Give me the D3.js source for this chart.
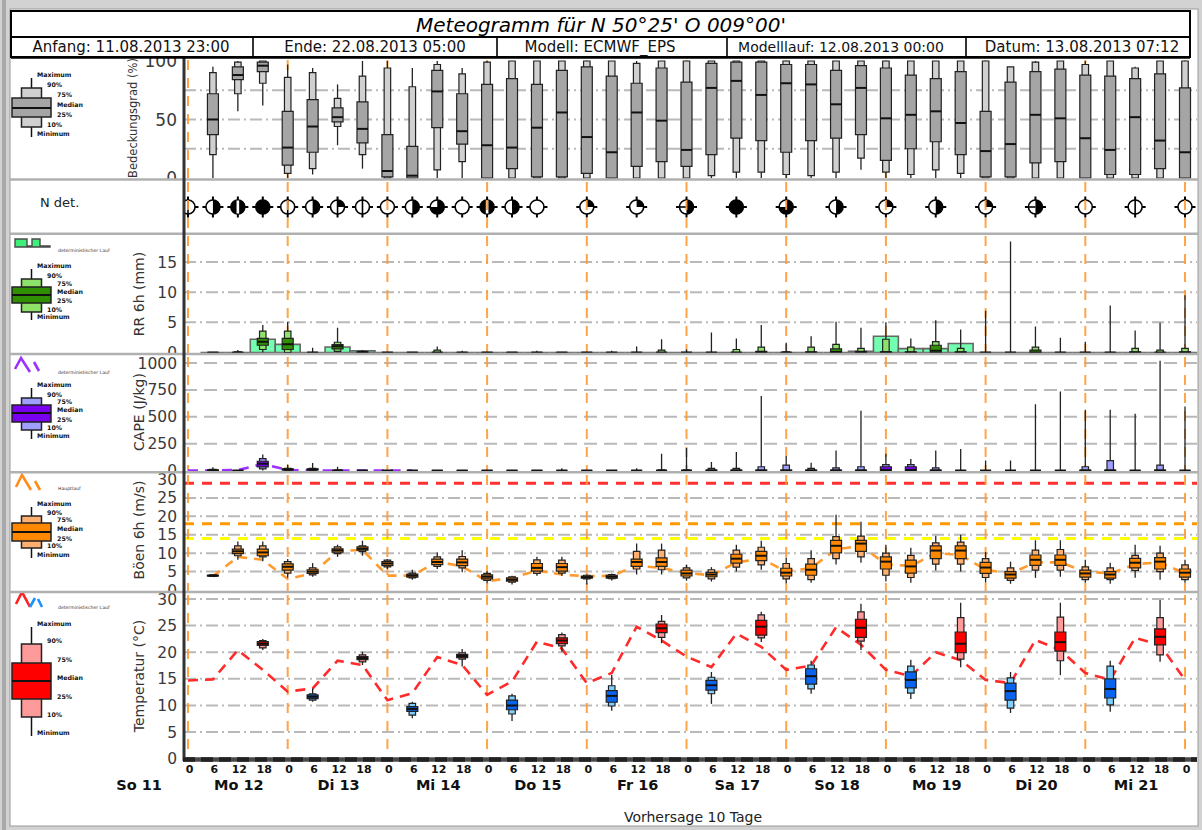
<!DOCTYPE html>
<html>
<head>
<meta charset="utf-8">
<script src="https://cdn.jsdelivr.net/npm/d3@7"></script>
<style>
  html, body { margin: 0; padding: 0; background: #fff; }
  svg { display: block; font-family: "DejaVu Sans", sans-serif; }
</style>
</head>
<body>
<svg id="chart" width="1202" height="830"></svg>
<script>
// ---------------- data ----------------
// time axis: hours after 12.08.2013 00:00
const dayLabels = ["So 11", "Mo 12", "Di 13", "Mi 14", "Do 15", "Fr 16", "Sa 17", "So 18", "Mo 19", "Di 20", "Mi 21"];
const dayNoonHours = [-12, 12, 36, 60, 84, 108, 132, 156, 180, 204, 228];
const dayStartHours = [0, 24, 48, 72, 96, 120, 144, 168, 192, 216, 240];
const hourTicks = d3.range(0, 241, 6);
const ensHours = d3.range(6, 241, 6);      // ensemble output steps
const detHours = d3.range(0, 241, 6);      // deterministic run steps

const headerCells = ["Anfang: 11.08.2013 23:00", "Ende: 22.08.2013 05:00", "Modell: ECMWF_EPS",
                     "Modelllauf: 12.08.2013 00:00", "Datum: 13.08.2013 07:12"];
const titleText = "Meteogramm für N 50°25' O 009°00'";
const legendNames = ["Maximum", "90%", "75%", "Median", "25%", "10%", "Minimum"];

// ensemble statistics per step: [min, p10, p25, median, p75, p90, max]
const cloudStats = [
  [0,20,37,50,72,90,95],[57,72,84,88,95,99,100],[62,81,91,96,99,100,100],[0,4,11,26,57,86,97],
  [3,8,22,44,67,90,94],[28,44,48,52,60,68,80],[8,20,30,42,65,87,100],[0,0,1,6,37,94,100],
  [0,0,0,2,27,78,94],[0,7,43,74,92,97,100],[0,14,29,40,72,89,94],[0,0,0,28,80,99,100],
  [0,0,8,26,85,100,100],[0,0,1,43,80,100,100],[0,0,1,56,92,100,100],[0,0,4,35,95,100,100],
  [0,0,0,22,87,100,100],[0,0,10,56,81,98,100],[0,0,14,49,94,100,100],[0,0,10,24,82,100,100],
  [0,2,20,77,98,100,100],[0,5,34,83,99,100,100],[0,5,32,71,99,100,100],[0,3,22,81,97,100,100],
  [0,2,32,80,97,100,100],[0,5,34,63,92,100,100],[7,17,37,77,96,100,100],[0,5,15,51,94,100,100],
  [0,3,25,54,88,100,100],[0,7,31,57,85,100,100],[0,4,20,47,91,100,100],[0,0,1,23,57,100,100],
  [0,0,1,29,82,95,95],[0,0,13,54,91,99,100],[0,0,14,51,93,100,100],[0,0,0,34,88,97,100],
  [0,0,3,24,87,100,100],[0,0,3,52,85,94,95],[0,0,8,32,89,100,100],[0,0,0,22,77,100,100]
];

// deterministic total cloud cover in octas
const ndetHours = [0,6,12,18,24,30,36,42,48,54,60,66,72,78,84,96,108,120,132,144,156,168,180,192,204,216,228,240];
const ndetOctas = [1,4,7,8,1,4,3,1,0,4,6,0,7,4,0,2,2,5,8,6,4,2,4,2,5,0,1,0];

const rrStats = [
  [0,0,0,0,0,0,0],[0,0,0,0,0,0.1,0.4],[0,0.5,1.2,1.8,2.35,3.55,4.55],[0,0,0.5,1.35,2.35,3.55,5.1],
  [0,0,0,0,0,0,0.8],[0,0.2,0.6,1.05,1.3,1.7,4.1],[0,0,0,0.05,0.1,0.2,0.4],[0,0,0,0,0,0,0],
  [0,0,0,0,0,0,0],[0,0,0,0,0,0.4,1.0],[0,0,0,0,0,0,0.3],[0,0,0,0,0,0,0],
  [0,0,0,0,0,0,0.1],[0,0,0,0,0,0,0.3],[0,0,0,0,0,0,0],[0,0,0,0,0,0,0],
  [0,0,0,0,0,0,0.3],[0,0,0,0,0,0,1.0],[0,0,0,0,0,0.4,2.2],[0,0,0,0,0,0,0.5],
  [0,0,0,0,0,0,3.3],[0,0,0,0,0,0.5,2.3],[0,0,0,0,0.2,0.9,4.55],[0,0,0,0,0,0.1,1.6],
  [0,0,0,0,0.1,0.9,2.7],[0,0,0,0.1,0.6,1.35,5.1],[0,0,0,0,0.2,0.7,4.1],[0,0,0,0.05,0.1,2.2,5.0],
  [0,0,0,0,0.1,0.9,2.3],[0,0,0,0.3,1.2,1.8,5.35],[0,0,0,0,0.1,0.7,3.8],[0,0,0,0,0,0,6.9],
  [0,0,0,0,0,0,18.4],[0,0,0,0,0.4,0.9,4.3],[0,0,0,0,0,0,2.45],[0,0,0,0,0,0,1.8],
  [0,0,0,0,0,0,7.8],[0,0,0,0,0.1,0.7,3.65],[0,0,0,0,0,0.4,4.95],[0,0,0,0,0.1,0.7,9.5]
];
// deterministic 6-hourly precipitation (mm)
const rrDet = [0,0,2.2,1.35,0,0.9,0.3,0, 0,0,0,0,0,0,0,0,0,0,0,0,0,0,0,0,0,0,
               0.2,2.7,0.65,0.65,1.5, 0,0,0,0,0,0,0,0,0];

const capeStats = [
  [0,0,0,0,5,10,30],[0,0,0,0,0,0,5],[0,16,34,62,86,110,148],[0,0,5,10,15,20,55],
  [0,0,5,10,15,20,70],[0,0,0,0,0,5,34],[0,0,0,0,0,0,0],[0,0,0,0,0,0,0],
  [0,0,0,0,0,0,0],[0,0,0,0,0,0,0],[0,0,0,0,0,0,0],[0,0,0,0,0,0,0],
  [0,0,0,0,0,0,0],[0,0,0,0,0,0,0],[0,0,0,0,0,0,20],[0,0,0,0,0,0,0],
  [0,0,0,0,0,0,5],[0,0,0,0,0,0,20],[0,0,0,0,0,5,155],[0,0,0,0,0,5,210],
  [0,0,0,0,3,20,80],[0,0,0,0,3,20,173],[0,0,0,0,3,35,694],[0,0,0,0,3,50,133],
  [0,0,0,0,3,20,71],[0,0,0,0,3,25,185],[0,0,0,0,3,35,555],[0,0,0,5,35,55,155],
  [0,0,0,5,35,55,108],[0,0,0,0,3,25,185],[0,0,0,0,0,0,200],[0,0,0,0,0,0,92],
  [0,0,0,0,0,0,92],[0,0,0,0,0,0,617],[0,0,0,0,0,0,734],[0,0,0,0,3,35,565],
  [0,0,0,0,3,92,565],[0,0,0,0,0,0,528],[0,0,0,0,3,50,1020],[0,0,0,0,0,0,596]
];
const capeDetHours = [0,6,12,18,24,30,36,42,48,54];
const capeDet = [0,0,5,60,5,0,0,0,0,0];

const gustStats = [
  [3.5,3.7,3.8,3.9,4.0,4.1,4.3],[8.2,9.3,9.9,10.5,11.1,12.0,13.2],[7.8,9.0,9.3,10.2,11.1,12.0,13.2],
  [3.3,4.6,5.4,6.3,7.1,7.7,8.4],[3.6,4.1,4.5,5.0,5.5,6.0,7.3],[9.0,9.9,10.3,10.8,11.2,11.7,12.3],
  [9.3,10.4,10.8,11.2,11.7,12.0,13.4],[5.7,6.3,6.6,7.2,7.7,8.1,8.4],[2.8,3.3,3.5,3.9,4.3,4.6,5.5],
  [5.7,6.4,6.9,7.6,8.4,9.0,10.2],[4.8,6.0,6.6,7.5,8.4,9.1,10.8],[1.8,2.6,3.0,3.6,4.1,4.5,5.1],
  [1.5,2.1,2.4,2.8,3.3,3.6,3.9],[3.9,4.5,5.1,6.0,7.2,8.2,9.0],[3.9,4.6,5.1,6.2,7.2,8.1,9.0],
  [1.5,3.0,3.2,3.5,3.8,4.0,4.2],[2.6,3.1,3.2,3.6,4.0,4.2,4.5],[4.2,5.7,6.4,7.6,8.4,10.5,12.6],
  [4.2,5.5,6.4,7.6,8.7,10.8,12.6],[2.5,3.3,3.8,4.5,5.4,6.0,6.9],[2.3,3.0,3.6,4.2,4.8,5.5,6.2],
  [5.0,6.2,7.3,8.5,9.7,10.8,12.3],[5.5,6.8,8.0,9.3,10.5,11.6,13.4],[1.8,3.0,3.8,4.7,5.9,7.2,8.8],
  [2.0,2.8,4.0,5.5,7.0,8.5,10.8],[6.9,8.5,10.1,12.0,13.5,14.5,20.4],[7.4,9.0,10.5,12.6,13.5,14.6,18.5],
  [2.3,4.0,5.7,7.7,9.0,10.0,12.3],[2.0,3.4,4.6,6.4,8.1,9.4,11.5],[5.3,7.0,8.5,10.7,12.0,12.8,14.7],
  [5.0,7.0,8.5,10.7,12.0,13.0,15.0],[2.0,3.4,4.5,6.1,7.5,8.5,10.3],[1.7,2.6,3.2,4.2,5.0,6.0,7.7],
  [3.3,5.4,6.7,8.2,9.5,10.8,13.5],[3.6,5.4,6.7,8.2,9.5,11.0,13.5],[2.0,2.8,3.5,4.5,5.4,6.3,8.2],
  [1.7,2.8,3.2,4.2,5.0,6.0,7.4],[3.3,5.3,6.0,7.4,8.6,9.4,12.3],[2.8,5.0,5.7,7.7,8.8,10.0,12.0],
  [2.0,2.8,3.5,4.7,5.7,6.8,8.2]
];
const gustDet = [3.7,9.0,8.2,3.0,4.5,10.5,10.9,3.9,3.9,7.7,6.4,2.4,3.3,5.3,4.2,3.7,3.9,6.6,6.0,4.6,
                 4.0,7.5,8.5,5.0,6.0,11.0,12.0,7.0,6.5,10.0,9.5,5.5,4.5,7.5,7.5,5.0,4.5,7.0,7.5,4.5];
const gustWarnLevels = [14, 18, 29];
const gustWarnColors = ["#ffff00", "#ff9a00", "#ff3030"];

const tminHours = [30, 54, 78, 102, 126, 150, 174, 198, 222];
const tminStats = [
  [10.7,11.0,11.3,11.65,12.0,12.2,13.2],[7.6,8.2,8.9,9.35,9.8,10.4,10.7],[7.1,8.4,9.2,10.0,11.0,11.8,12.2],
  [9.0,9.9,10.6,11.8,12.8,13.7,15.7],[10.3,12.2,12.9,13.8,14.7,15.3,16.3],[12.2,13.1,14.0,15.5,16.9,17.6,18.4],
  [11.2,12.3,13.3,14.8,16.3,17.4,18.6],[8.6,9.5,11.0,12.7,14.2,15.2,16.3],[8.8,10.1,11.4,13.1,15.0,17.4,18.4]
];
const tmaxHours = [18, 42, 66, 90, 114, 138, 162, 186, 210, 234];
const tmaxStats = [
  [20.4,20.8,21.3,21.6,22.0,22.2,22.5],[17.6,18.2,18.6,18.9,19.2,19.5,20.1],[17.3,18.7,19.0,19.3,19.6,19.9,20.6],
  [20.1,21.2,21.6,22.2,22.7,23.3,23.7],[21.7,22.8,23.7,24.5,25.3,25.8,27.0],[21.9,22.7,23.2,24.8,26.0,27.0,27.6],
  [20.4,22.1,22.8,24.6,26.2,27.6,29.1],[17.2,18.7,19.9,21.6,23.8,26.5,29.3],[15.7,18.4,20.2,21.9,23.8,26.6,29.3],
  [18.2,19.5,21.4,22.9,24.4,26.5,29.8]
];
const tempDet = [14.7,14.9,20.4,16.7,12.6,13.2,18.4,17.6,11.0,12.3,19.1,17.6,12.0,14.5,22.0,20.7,14.2,16.1,
                 24.8,22.2,19.2,17.2,23.5,21.0,16.7,17.5,24.7,21.4,16.7,15.5,20.0,18.5,14.8,14.2,22.3,20.4,
                 16.1,14.8,22.7,21.4,14.8];

// axis ticks and grid levels
const cloudTicks = [0, 50, 100], cloudGrid = [25, 50, 75];
const rrTicks = [0, 5, 10, 15], rrGrid = [5, 10, 15];
const capeTicks = [0, 250, 500, 750, 1000], capeGrid = [250, 500, 750, 1000];
const gustTicks = [0, 5, 10, 15, 20, 25, 30], gustGrid = [5, 10, 15, 20, 25];
const tempTicks = [0, 5, 10, 15, 20, 25, 30], tempGrid = [5, 10, 15, 20, 25, 30];

// ---------------- layout ----------------
const svg = d3.select("#chart");
const PL = 184, PR = 1197;
const x = d3.scaleLinear().domain([0, 240]).range([188, 1185]);

const panels = {
  cloud: { top: 58, bottom: 179 },
  ndet:  { top: 180, bottom: 233 },
  rr:    { top: 234, bottom: 353.5 },
  cape:  { top: 355, bottom: 471.5 },
  gust:  { top: 473, bottom: 591 },
  temp:  { top: 593, bottom: 775 }
};
const yCloud = d3.scaleLinear().domain([0, 100]).range([178, 61]);
const yRR    = d3.scaleLinear().domain([0, 15]).range([352.5, 262]);
const yCape  = d3.scaleLinear().domain([0, 1000]).range([470.5, 363]);
const yGust  = d3.scaleLinear().domain([0, 30]).range([590, 479.5]);
const yTemp  = d3.scaleLinear().domain([0, 30]).range([758.7, 599]);

const GRID = "#b9b9b9";
const DASHDOT = "12,4,2,4";

// frame
svg.append("rect").attr("width", 1202).attr("height", 830).attr("fill", "#d2d2d2");
svg.append("rect").attr("x", 2).attr("y", 0).attr("width", 4).attr("height", 830).attr("fill", "#a9a9a9");
svg.append("rect").attr("x", 10).attr("y", 9).attr("width", 1188).attr("height", 817)
  .attr("fill", "#fff").attr("stroke", "#9a9a9a").attr("stroke-width", 1);

const defs = svg.append("defs");
Object.entries(panels).forEach(([k, p]) => {
  defs.append("clipPath").attr("id", "clip-" + k)
    .append("rect").attr("x", 11).attr("y", p.top).attr("width", PR - 11).attr("height", p.bottom - p.top);
  defs.append("clipPath").attr("id", "plot-" + k)
    .append("rect").attr("x", PL).attr("y", p.top).attr("width", PR - PL).attr("height", p.bottom - p.top);
});

const rectPath = (x0, y0, x1, y1) => `M${x0},${y0}H${x1}V${y1}H${x0}Z`;

function grid(g, yS, levels, dash) {
  g.selectAll(null).data(levels).join("line")
    .attr("x1", PL).attr("x2", PR).attr("y1", d => yS(d)).attr("y2", d => yS(d))
    .attr("stroke", GRID).attr("stroke-width", 2).attr("stroke-dasharray", dash);
}

function dayLines(g, p) {
  g.selectAll(null).data(dayStartHours).join("line")
    .attr("x1", d => x(d)).attr("x2", d => x(d)).attr("y1", p.top + 2).attr("y2", Math.min(p.bottom, 757))
    .attr("stroke", "#ff9a33").attr("stroke-opacity", 0.9).attr("stroke-width", 2)
    .attr("stroke-dasharray", "10,8");
}

function yTickLabels(g, yS, ticks, size) {
  g.selectAll(null).data(ticks).join("text")
    .attr("x", 177).attr("y", d => yS(d)).attr("dy", "0.36em")
    .attr("text-anchor", "end").attr("font-size", size).attr("fill", "#3a3a3a")
    .text(d => d);
}

function yTitle(g, txt, xPos, yPos, size) {
  g.append("text").attr("transform", `translate(${xPos},${yPos}) rotate(-90)`)
    .attr("text-anchor", "middle").attr("font-size", size).attr("fill", "#333").text(txt);
}

function boxes(g, yS, hrs, stats, light, dark) {
  const wl = 6.5, wd = 11;
  const items = g.selectAll(null).data(hrs.map((h, i) => ({ h, s: stats[i] }))).join("g");
  items.append("line")
    .attr("x1", d => x(d.h)).attr("x2", d => x(d.h))
    .attr("y1", d => yS(d.s[0])).attr("y2", d => yS(d.s[6]))
    .attr("stroke", "#222").attr("stroke-width", 1.3);
  items.append("path")
    .attr("d", d => rectPath(x(d.h) - wl / 2, yS(d.s[5]), x(d.h) + wl / 2, yS(d.s[1])))
    .attr("fill", light).attr("stroke", "#222").attr("stroke-width", 1.2);
  items.append("path")
    .attr("d", d => rectPath(x(d.h) - wd / 2, yS(d.s[4]), x(d.h) + wd / 2, yS(d.s[2])))
    .attr("fill", dark).attr("stroke", "#222").attr("stroke-width", 1.2);
  items.append("line")
    .attr("x1", d => x(d.h) - wd / 2).attr("x2", d => x(d.h) + wd / 2)
    .attr("y1", d => yS(d.s[3])).attr("y2", d => yS(d.s[3]))
    .attr("stroke", "#111").attr("stroke-width", 2);
}

function detLine(g, yS, hrs, vals, color, dash) {
  g.append("path")
    .datum(hrs.map((h, i) => [h, vals[i]]))
    .attr("d", d3.line().x(d => x(d[0])).y(d => yS(d[1])))
    .attr("fill", "none").attr("stroke", color).attr("stroke-width", 2.6)
    .attr("stroke-dasharray", dash);
}

function legendBox(g, ys, light, dark) {
  // ys: whiskerTop, lightTop, darkTop, median, darkBottom, lightBottom, whiskerBottom
  const cx = 31.5;
  g.append("line").attr("x1", cx).attr("x2", cx).attr("y1", ys[0]).attr("y2", ys[6])
    .attr("stroke", "#111").attr("stroke-width", 1.5);
  g.append("path").attr("d", rectPath(cx - 10, ys[1], cx + 10, ys[5]))
    .attr("fill", light).attr("stroke", "#222").attr("stroke-width", 1.5);
  g.append("path").attr("d", rectPath(cx - 19.5, ys[2], cx + 19.5, ys[4]))
    .attr("fill", dark).attr("stroke", "#222").attr("stroke-width", 1.5);
  g.append("line").attr("x1", cx - 19.5).attr("x2", cx + 19.5).attr("y1", ys[3]).attr("y2", ys[3])
    .attr("stroke", "#111").attr("stroke-width", 2);
  const lx = [37, 47, 57, 57, 57, 47, 37];
  const ly = [ys[0] - 3, ys[1] - 3, ys[2] - 3, ys[3] - 3, ys[4] - 2, ys[5] - 2, ys[6] - 3];
  g.selectAll(null).data(legendNames).join("text")
    .attr("x", (d, i) => lx[i]).attr("y", (d, i) => ly[i]).attr("dy", "0.35em")
    .attr("font-size", 6.3).attr("font-weight", "bold").attr("fill", "#111").text(d => d);
}

function tinyCaption(g, txt, yPos) {
  g.append("text").attr("x", 58).attr("y", yPos).attr("font-size", 4.6).attr("fill", "#333").text(txt);
}

// ---------------- Bedeckungsgrad ----------------
{
  const p = panels.cloud;
  const g = svg.append("g").attr("clip-path", "url(#clip-cloud)");
  const gp = svg.append("g").attr("clip-path", "url(#plot-cloud)");
  grid(gp, yCloud, cloudGrid, DASHDOT);
  dayLines(gp, p);
  boxes(gp, yCloud, ensHours, cloudStats, "#d0d0d0", "#a5a5a5");
  yTickLabels(g, yCloud, cloudTicks, 17);
  yTitle(g, "Bedeckungsgrad (%)", 137, 118, 11.5);
  legendBox(g, [78, 88, 98, 108, 117, 127, 137], "#d0d0d0", "#a5a5a5");
}

// ---------------- N det. ----------------
{
  const p = panels.ndet;
  const gp = svg.append("g").attr("clip-path", "url(#plot-ndet)");
  const cy = 207, r = 7;
  ndetHours.forEach((h, i) => {
    const n = ndetOctas[i];
    const s = gp.append("g").attr("transform", `translate(${x(h)},${cy})`);
    s.append("path").attr("d", `M0,${-r - 3.5}V${-r}M0,${r}V${r + 3.5}M${-r - 3.5},0H${-r}M${r},0H${r + 3.5}`)
      .attr("stroke", "#000").attr("stroke-width", 2);
    s.append("circle").attr("r", r).attr("fill", n >= 7 ? "#000" : "#fff").attr("stroke", "#000").attr("stroke-width", 1.6);
    const black = d => s.append("path").attr("d", d).attr("fill", "#000");
    const line = d => s.append("path").attr("d", d).attr("stroke", "#000").attr("stroke-width", 1.6).attr("fill", "none");
    if (n === 1) line(`M0,${-r}V${r}`);
    if (n === 2 || n === 3) black(`M0,0V${-r}A${r},${r} 0 0 1 ${r},0Z`);
    if (n === 3) line(`M0,${-r}V${r}`);
    if (n === 4 || n === 5) black(`M0,${-r}A${r},${r} 0 0 1 0,${r}Z`);
    if (n === 5) line(`M${-r},0H0`);
    if (n === 6) black(`M0,0V${-r}A${r},${r} 0 1 1 ${-r},0Z`);
    if (n === 7) s.append("rect").attr("x", -1.3).attr("y", -r + 0.5).attr("width", 2.6).attr("height", 2 * r - 1).attr("fill", "#fff");
  });
  dayLines(gp, p);
  svg.append("text").attr("x", 40).attr("y", 207).attr("font-size", 13).attr("fill", "#222").text("N det.");
}

// ---------------- RR 6h ----------------
{
  const p = panels.rr;
  const g = svg.append("g").attr("clip-path", "url(#clip-rr)");
  const gp = svg.append("g").attr("clip-path", "url(#plot-rr)");
  grid(gp, yRR, rrGrid, DASHDOT);
  dayLines(gp, p);
  const bw = x(6) - x(0);
  gp.selectAll(null).data(ensHours.map((h, i) => [h, rrDet[i]])).join("path")
    .attr("d", d => rectPath(x(d[0]) - bw / 2, yRR(d[1]), x(d[0]) + bw / 2, yRR(0)))
    .attr("fill", "#72ffb0").attr("stroke", "#666").attr("stroke-width", 1.6);
  boxes(gp, yRR, ensHours, rrStats, "#8ee26a", "#2f8f00");
  yTickLabels(g, yRR, rrTicks, 15.5);
  yTitle(g, "RR 6h (mm)", 144, 294, 14);
  g.append("path").attr("d", "M15,247V239H27V246H32V239H40V246H50V247Z")
    .attr("fill", "#3cf07a").attr("stroke", "#4a4a4a").attr("stroke-width", 1.4);
  tinyCaption(g, "deterministischer Lauf", 252);
  legendBox(g, [269, 279, 287, 295, 303, 312, 320], "#8ee26a", "#2f8f00");
}

// ---------------- CAPE ----------------
{
  const p = panels.cape;
  const g = svg.append("g").attr("clip-path", "url(#clip-cape)");
  const gp = svg.append("g").attr("clip-path", "url(#plot-cape)");
  grid(gp, yCape, capeGrid, "13,7");
  dayLines(gp, p);
  detLine(gp, yCape, capeDetHours, capeDet, "#9b30ff", "10,7");
  boxes(gp, yCape, ensHours, capeStats, "#9f9fff", "#7a00f0");
  yTickLabels(g, yCape, capeTicks, 15.5);
  yTitle(g, "CAPE (J/kg)", 144, 412, 14);
  g.append("path").attr("d", "M15,369L21,358L30,372M34,362L39,371")
    .attr("fill", "none").attr("stroke", "#9b30ff").attr("stroke-width", 2.6);
  tinyCaption(g, "deterministischer Lauf", 374);
  legendBox(g, [388, 398, 405, 413, 422, 430, 439], "#9f9fff", "#7a00f0");
}

// ---------------- Böen 6h ----------------
{
  const p = panels.gust;
  const g = svg.append("g").attr("clip-path", "url(#clip-gust)");
  const gp = svg.append("g").attr("clip-path", "url(#plot-gust)");
  grid(gp, yGust, gustGrid, DASHDOT);
  gp.selectAll(null).data(gustWarnLevels).join("line")
    .attr("x1", PL).attr("x2", PR).attr("y1", d => yGust(d)).attr("y2", d => yGust(d))
    .attr("stroke", (d, i) => gustWarnColors[i]).attr("stroke-width", 3).attr("stroke-dasharray", "10,8");
  dayLines(gp, p);
  detLine(gp, yGust, ensHours, gustDet, "#ff9a2e", "9,7");
  boxes(gp, yGust, ensHours, gustStats, "#ffb070", "#ff8800");
  yTickLabels(g, yGust, gustTicks, 15.5);
  yTitle(g, "Böen 6h (m/s)", 144, 530, 14);
  g.append("path").attr("d", "M16,487L22,475L31,490M35,481L40,490")
    .attr("fill", "none").attr("stroke", "#ff8c1a").attr("stroke-width", 2.6);
  tinyCaption(g, "Hauptlauf", 490);
  legendBox(g, [507, 516, 523, 532, 541, 548, 558], "#ffb070", "#ff8800");
}

// ---------------- Temperatur ----------------
{
  const p = panels.temp;
  const g = svg.append("g").attr("clip-path", "url(#clip-temp)");
  const gp = svg.append("g").attr("clip-path", "url(#plot-temp)");
  grid(gp, yTemp, tempGrid, DASHDOT);
  dayLines(gp, p);
  detLine(gp, yTemp, detHours, tempDet, "#ff2a2a", "10,7");
  boxes(gp, yTemp, tmaxHours, tmaxStats, "#ff9a9a", "#ff0000");
  boxes(gp, yTemp, tminHours, tminStats, "#7fd0ff", "#0a64f0");
  yTickLabels(g, yTemp, tempTicks, 15.5);
  yTitle(g, "Temperatur (°C)", 144, 676, 14);
  g.append("path").attr("d", "M16,604L22,592L30,607").attr("fill", "none").attr("stroke", "#ff2020").attr("stroke-width", 2.6);
  g.append("path").attr("d", "M30,607L35,598M38,599L42,607").attr("fill", "none").attr("stroke", "#1e90ff").attr("stroke-width", 2.6);
  tinyCaption(g, "deterministischer Lauf", 609);
  legendBox(g, [627, 644, 663, 681, 699, 717, 736], "#ff9a9a", "#ff0000");
}

// ---------------- separators and axes ----------------
svg.selectAll(null).data([179.5, 233.8, 354, 472.3, 592]).join("line")
  .attr("x1", 10).attr("x2", 1198).attr("y1", d => d).attr("y2", d => d)
  .attr("stroke", "#b0b0b0").attr("stroke-width", 2.5);

svg.append("line").attr("x1", PL).attr("x2", PL).attr("y1", 58).attr("y2", 761)
  .attr("stroke", "#333").attr("stroke-width", 3);
svg.append("line").attr("x1", PL - 1).attr("x2", PR).attr("y1", 759.5).attr("y2", 759.5)
  .attr("stroke", "#4a4a4a").attr("stroke-width", 4.5);
svg.append("line").attr("x1", PL - 1).attr("x2", PR).attr("y1", 759.5).attr("y2", 759.5)
  .attr("stroke", "#222").attr("stroke-width", 4.5).attr("stroke-dasharray", "12,6");

// x axis labels
const xAxis = svg.append("g");
xAxis.selectAll(null).data(hourTicks).join("text")
  .attr("x", d => x(d) + 1.5).attr("y", 773).attr("text-anchor", "middle")
  .attr("font-size", 11).attr("font-weight", "bold").attr("fill", "#111")
  .text(d => String(d % 24));
xAxis.selectAll(null).data(dayLabels).join("text")
  .attr("x", (d, i) => x(dayNoonHours[i]) + 1).attr("y", 790).attr("text-anchor", "middle")
  .attr("font-size", 14.5).attr("font-weight", "bold").attr("fill", "#111")
  .text(d => d);
svg.append("text").attr("x", 693).attr("y", 822).attr("text-anchor", "middle")
  .attr("font-size", 14).attr("fill", "#222").text("Vorhersage 10 Tage");

// ---------------- header ----------------
const hdr = svg.append("g");
hdr.append("rect").attr("x", 11).attr("y", 11).attr("width", 1179).attr("height", 46)
  .attr("fill", "#fff").attr("stroke", "#000").attr("stroke-width", 2);
hdr.append("line").attr("x1", 11).attr("x2", 1190).attr("y1", 37).attr("y2", 37)
  .attr("stroke", "#000").attr("stroke-width", 2);
hdr.append("line").attr("x1", 11).attr("x2", 1190).attr("y1", 57.5).attr("y2", 57.5)
  .attr("stroke", "#000").attr("stroke-width", 2.5);
hdr.selectAll(null).data([253, 497, 727, 966]).join("line")
  .attr("x1", d => d).attr("x2", d => d).attr("y1", 37).attr("y2", 57)
  .attr("stroke", "#000").attr("stroke-width", 1.6);
hdr.append("text").attr("x", 601).attr("y", 32).attr("text-anchor", "middle")
  .attr("font-size", 20).attr("font-style", "italic").attr("fill", "#000").text(titleText);
const cellCenters = [131, 375, 600, 841, 1082];
hdr.selectAll(null).data(headerCells).join("text")
  .attr("x", (d, i) => cellCenters[i]).attr("y", 51.5).attr("text-anchor", "middle")
  .attr("font-size", (d, i) => i === 3 ? 14 : 15).attr("fill", "#111").text(d => d);
</script>
</body>
</html>
